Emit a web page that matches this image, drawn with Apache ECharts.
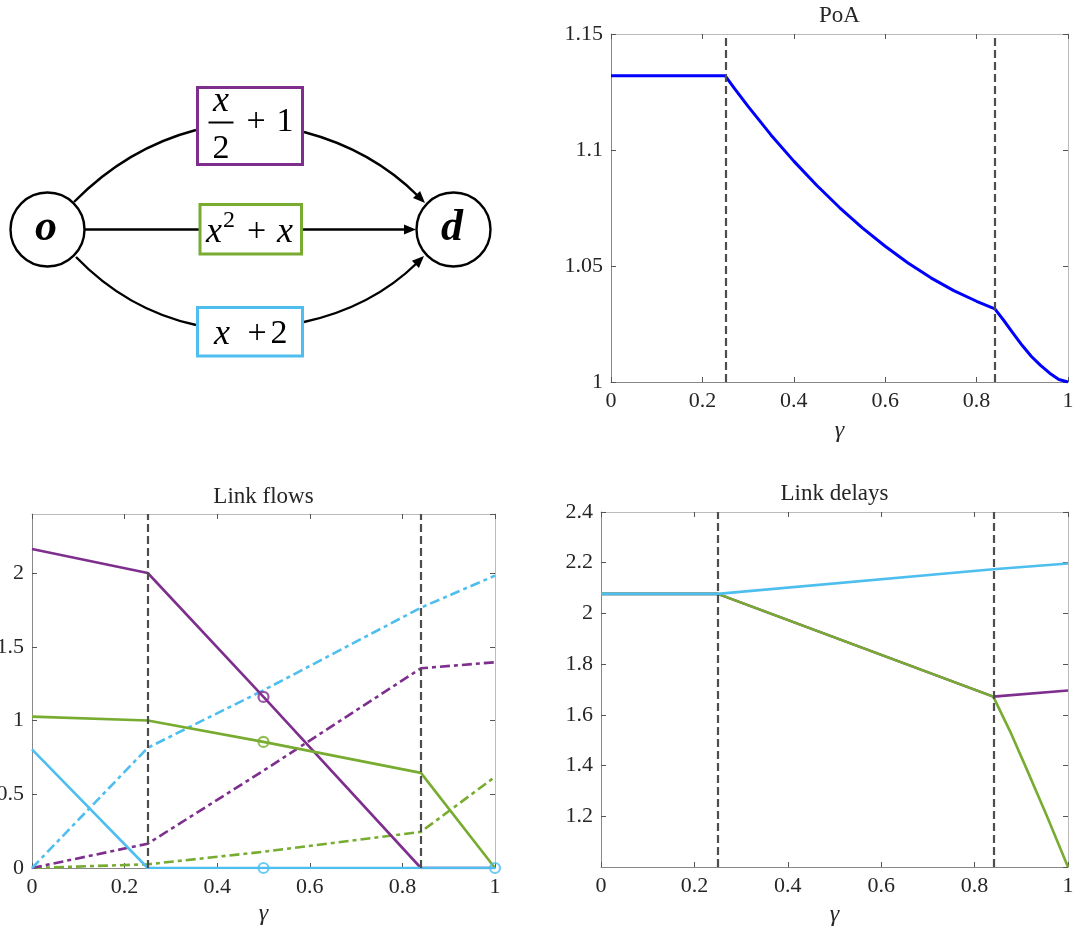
<!DOCTYPE html>
<html><head><meta charset="utf-8">
<script src="https://cdn.jsdelivr.net/npm/echarts@6/dist/echarts.min.js"></script>
<style>html,body{margin:0;padding:0;background:#fff}#c{width:1074px;height:929px}</style>
</head><body><div id="c"></div>
<script>
// ---------------- data ----------------
const phaseBoundaries = [0.25, 0.84];

const poaGamma = [0, 0.25, 0.27, 0.3, 0.35, 0.4, 0.45, 0.5, 0.55, 0.6, 0.65, 0.7, 0.75, 0.8, 0.84, 0.86, 0.88, 0.9, 0.92, 0.94, 0.96, 0.98, 1.0];
const poaValue = [1.132, 1.132, 1.1266, 1.1188, 1.1065, 1.0952, 1.0848, 1.0752, 1.0664, 1.0585, 1.0513, 1.0449, 1.0394, 1.0348, 1.0315, 1.0264, 1.0210, 1.0157, 1.0110, 1.0072, 1.0038, 1.0011, 1.0];

const flowGamma = [0, 0.25, 0.5, 0.84, 1];
const flowPurpleSolid = [2.163, 2.0, 1.16, 0, 0];
const flowGreenSolid = [1.026, 1.0, 0.855, 0.645, 0];
const flowCyanSolid = [0.804, 0, 0, 0, 0];
const flowPurpleDash = [0, 0.165, 0.66, 1.354, 1.395];
const flowGreenDash = [0, 0.025, 0.11, 0.245, 0.618];
const flowCyanDash = [0, 0.815, 1.205, 1.765, 1.982];
const markerGamma = [0.5, 0.5, 0.5, 1];
const markerFlow = [1.16, 0.855, 0, 0];
const markerLink = ['purple', 'green', 'cyan', 'cyan'];

const delayPurpleGamma = [0, 0.25, 0.84, 1];
const delayPurple = [2.077, 2.077, 1.672, 1.696];
const delayGreenGamma = [0, 0.25, 0.84, 0.876, 0.912, 0.955, 1];
const delayGreen = [2.077, 2.077, 1.672, 1.535, 1.384, 1.2, 1.0];
const delayCyanGamma = [0, 0.25, 0.84, 1];
const delayCyan = [2.077, 2.077, 2.174, 2.197];

const titles = ['PoA', 'Link flows', 'Link delays'];
const xName = 'γ';

// ---------------- styling ----------------
const COL = { purple: '#7E2F8E', green: '#77AC30', cyan: '#4DBEEE', blue: '#0000FF', gray: '#4d4d4d' };
const SERIF = '"Liberation Serif", "DejaVu Serif", serif';
const TXT = '#262626';
const DASHDOT = [10, 4, 4, 4];

const zip = (xs, ys) => xs.map((x, i) => [x, ys[i]]);

const grids = [
  { left: 611, top: 34, width: 457, height: 348, containLabel: false, outerBoundsMode: 'none' },
  { left: 32, top: 514, width: 463, height: 354, containLabel: false, outerBoundsMode: 'none' },
  { left: 601, top: 512, width: 467, height: 355, containLabel: false, outerBoundsMode: 'none' }
];

const yCfg = [
  { min: 1, max: 1.15, interval: 0.05, showMin: true, showMax: true },
  { min: 0, max: 2.4, interval: 0.5, showMin: true, showMax: false },
  { min: 1, max: 2.4, interval: 0.2, showMin: false, showMax: true }
];
const nameGaps = [37, 34, 36];

const mkTick = () => ({ show: true, inside: true, length: 5, lineStyle: { color: '#555', width: 1 } });
const xAxes = [], yAxes = [];
grids.forEach((g, i) => {
  xAxes.push({
    gridIndex: i, type: 'value', min: 0, max: 1, interval: 0.2, position: 'bottom',
    axisLine: { show: true, onZero: false, lineStyle: { color: '#888', width: 1 } },
    axisTick: mkTick(), splitLine: { show: false },
    axisLabel: { color: TXT, fontFamily: SERIF, fontSize: 22, margin: 8 },
    name: xName, nameLocation: 'middle', nameGap: nameGaps[i],
    nameTextStyle: { color: TXT, fontFamily: SERIF, fontSize: 24, fontStyle: 'italic' }
  });
  xAxes.push({
    gridIndex: i, type: 'value', min: 0, max: 1, interval: 0.2, position: 'top',
    axisLine: { show: true, onZero: false, lineStyle: { color: '#bbb', width: 1 } },
    axisTick: mkTick(), axisLabel: { show: false }, splitLine: { show: false }
  });
  const y = yCfg[i];
  yAxes.push({
    gridIndex: i, type: 'value', min: y.min, max: y.max, interval: y.interval, position: 'left',
    axisLine: { show: true, onZero: false, lineStyle: { color: '#888', width: 1 } },
    axisTick: mkTick(), splitLine: { show: false },
    axisLabel: { color: TXT, fontFamily: SERIF, fontSize: 22, margin: 8, showMinLabel: y.showMin, showMaxLabel: y.showMax }
  });
  yAxes.push({
    gridIndex: i, type: 'value', min: y.min, max: y.max, interval: y.interval, position: 'right',
    axisLine: { show: true, onZero: false, lineStyle: { color: '#bbb', width: 1 } },
    axisTick: mkTick(), axisLabel: { show: false }, splitLine: { show: false }
  });
});

function vlines(grid) {
  return {
    type: 'line', xAxisIndex: grid * 2, yAxisIndex: grid * 2, data: [], silent: true,
    markLine: {
      silent: true, symbol: ['none', 'none'], label: { show: false }, animation: false,
      lineStyle: { type: [8, 4], color: COL.gray, width: 2.2 },
      data: phaseBoundaries.map(v => ({ xAxis: v }))
    }
  };
}
function line(grid, data, color, width, type, z) {
  return {
    type: 'line', xAxisIndex: grid * 2, yAxisIndex: grid * 2, data, showSymbol: false, symbol: 'none',
    lineStyle: { color, width, type: type || 'solid', cap: 'butt', join: 'round' }, z: z || 2, silent: true
  };
}

const series = [
  vlines(0),
  line(0, zip(poaGamma, poaValue), COL.blue, 3, 'solid', 3),
  vlines(1),
  line(1, zip(flowGamma, flowGreenDash), COL.green, 2.6, DASHDOT),
  line(1, zip(flowGamma, flowPurpleDash), COL.purple, 2.6, DASHDOT),
  line(1, zip(flowGamma, flowCyanDash), COL.cyan, 2.6, DASHDOT),
  line(1, zip(flowGamma, flowPurpleSolid), COL.purple, 2.6),
  line(1, zip(flowGamma, flowGreenSolid), COL.green, 2.6),
  line(1, zip(flowGamma, flowCyanSolid), COL.cyan, 2.6),
  {
    type: 'scatter', xAxisIndex: 2, yAxisIndex: 2, symbol: 'circle', symbolSize: 10, z: 5, silent: true,
    data: markerGamma.map((g, i) => ({
      value: [g, markerFlow[i]],
      itemStyle: { color: 'rgba(0,0,0,0)', borderColor: COL[markerLink[i]], borderWidth: 2.2 }
    }))
  },
  vlines(2),
  line(2, zip(delayPurpleGamma, delayPurple), COL.purple, 2.6),
  line(2, zip(delayGreenGamma, delayGreen), COL.green, 2.6),
  line(2, zip(delayCyanGamma, delayCyan), COL.cyan, 2.6)
];

// ---------------- network diagram (graphic) ----------------
function arrow(tx, ty, dx, dy, len, hw) {
  const n = Math.hypot(dx, dy), ux = dx / n, uy = dy / n;
  const bx = tx - ux * len, by = ty - uy * len;
  return { type: 'polygon', shape: { points: [[tx, ty], [bx - uy * hw, by + ux * hw], [bx + uy * hw, by - ux * hw]] }, style: { fill: '#000' } };
}
const EDGE = { stroke: '#000', lineWidth: 2.4, fill: null };
function txt(s, x, y, font) {
  return { type: 'text', x, y, style: { text: s, font, fill: '#000', textAlign: 'center', textVerticalAlign: 'middle', align: 'center', verticalAlign: 'middle' } };
}
const FX = 'italic 36px ' + SERIF;
const FN = '34px ' + SERIF;
const graphic = [
  // edges
  { type: 'bezierCurve', shape: { x1: 74, y1: 202, cpx1: 127, cpy1: 148, x2: 196, y2: 130 }, style: EDGE },
  { type: 'bezierCurve', shape: { x1: 304, y1: 132, cpx1: 372, cpy1: 150, x2: 418, y2: 196 }, style: EDGE },
  arrow(425, 203, 52, 52, 12, 5),
  { type: 'line', shape: { x1: 85, y1: 229.5, x2: 199, y2: 229.5 }, style: EDGE },
  { type: 'line', shape: { x1: 302, y1: 229.5, x2: 406, y2: 229.5 }, style: EDGE },
  arrow(416, 229.5, 1, 0, 12, 5),
  { type: 'bezierCurve', shape: { x1: 76, y1: 257, cpx1: 127, cpy1: 310, x2: 196, y2: 325 }, style: EDGE },
  { type: 'bezierCurve', shape: { x1: 304, y1: 322, cpx1: 372, cpy1: 307, x2: 417, y2: 263 }, style: EDGE },
  arrow(424, 256, 51, -50, 12, 5),
  // nodes
  { type: 'circle', shape: { cx: 47.5, cy: 229.5, r: 37 }, style: { fill: '#fff', stroke: '#000', lineWidth: 2.4 } },
  { type: 'circle', shape: { cx: 453.5, cy: 229.5, r: 37 }, style: { fill: '#fff', stroke: '#000', lineWidth: 2.4 } },
  txt('o', 46, 229, 'italic bold 44px ' + SERIF),
  txt('d', 452, 229, 'italic bold 44px ' + SERIF),
  // boxes
  { type: 'rect', shape: { x: 197.5, y: 87.5, width: 105, height: 77 }, style: { fill: '#fff', stroke: COL.purple, lineWidth: 3 } },
  { type: 'rect', shape: { x: 200, y: 204.5, width: 101.5, height: 49.5 }, style: { fill: '#fff', stroke: COL.green, lineWidth: 3 } },
  { type: 'rect', shape: { x: 197.5, y: 307.5, width: 105, height: 48.5 }, style: { fill: '#fff', stroke: COL.cyan, lineWidth: 3 } },
  // purple label: x/2 + 1
  txt('x', 221, 102, FX),
  { type: 'line', shape: { x1: 208.5, y1: 122.5, x2: 233.5, y2: 122.5 }, style: { stroke: '#000', lineWidth: 2 } },
  txt('2', 221, 149, FN),
  txt('+', 256, 122, FN),
  txt('1', 285, 122, FN),
  // green label: x^2 + x
  txt('x', 214, 233, FX),
  txt('2', 229, 221, '24px ' + SERIF),
  txt('+', 256.5, 232, FN),
  txt('x', 285, 233, FX),
  // cyan label: x + 2
  txt('x', 222, 335, FX),
  txt('+', 257, 334, FN),
  txt('2', 279, 334, FN)
];

const chart = echarts.init(document.getElementById('c'), null, { renderer: 'canvas' });
chart.setOption({
  animation: false,
  backgroundColor: '#fff',
  title: [
    { text: titles[0], left: 839.5, top: 4, textAlign: 'center', padding: 0, textStyle: { fontFamily: SERIF, fontSize: 23, fontWeight: 'normal', color: TXT } },
    { text: titles[1], left: 263.5, top: 485, textAlign: 'center', padding: 0, textStyle: { fontFamily: SERIF, fontSize: 23, fontWeight: 'normal', color: TXT } },
    { text: titles[2], left: 834.5, top: 482, textAlign: 'center', padding: 0, textStyle: { fontFamily: SERIF, fontSize: 23, fontWeight: 'normal', color: TXT } }
  ],
  grid: grids,
  xAxis: xAxes,
  yAxis: yAxes,
  series,
  graphic
});
</script>
</body></html>
